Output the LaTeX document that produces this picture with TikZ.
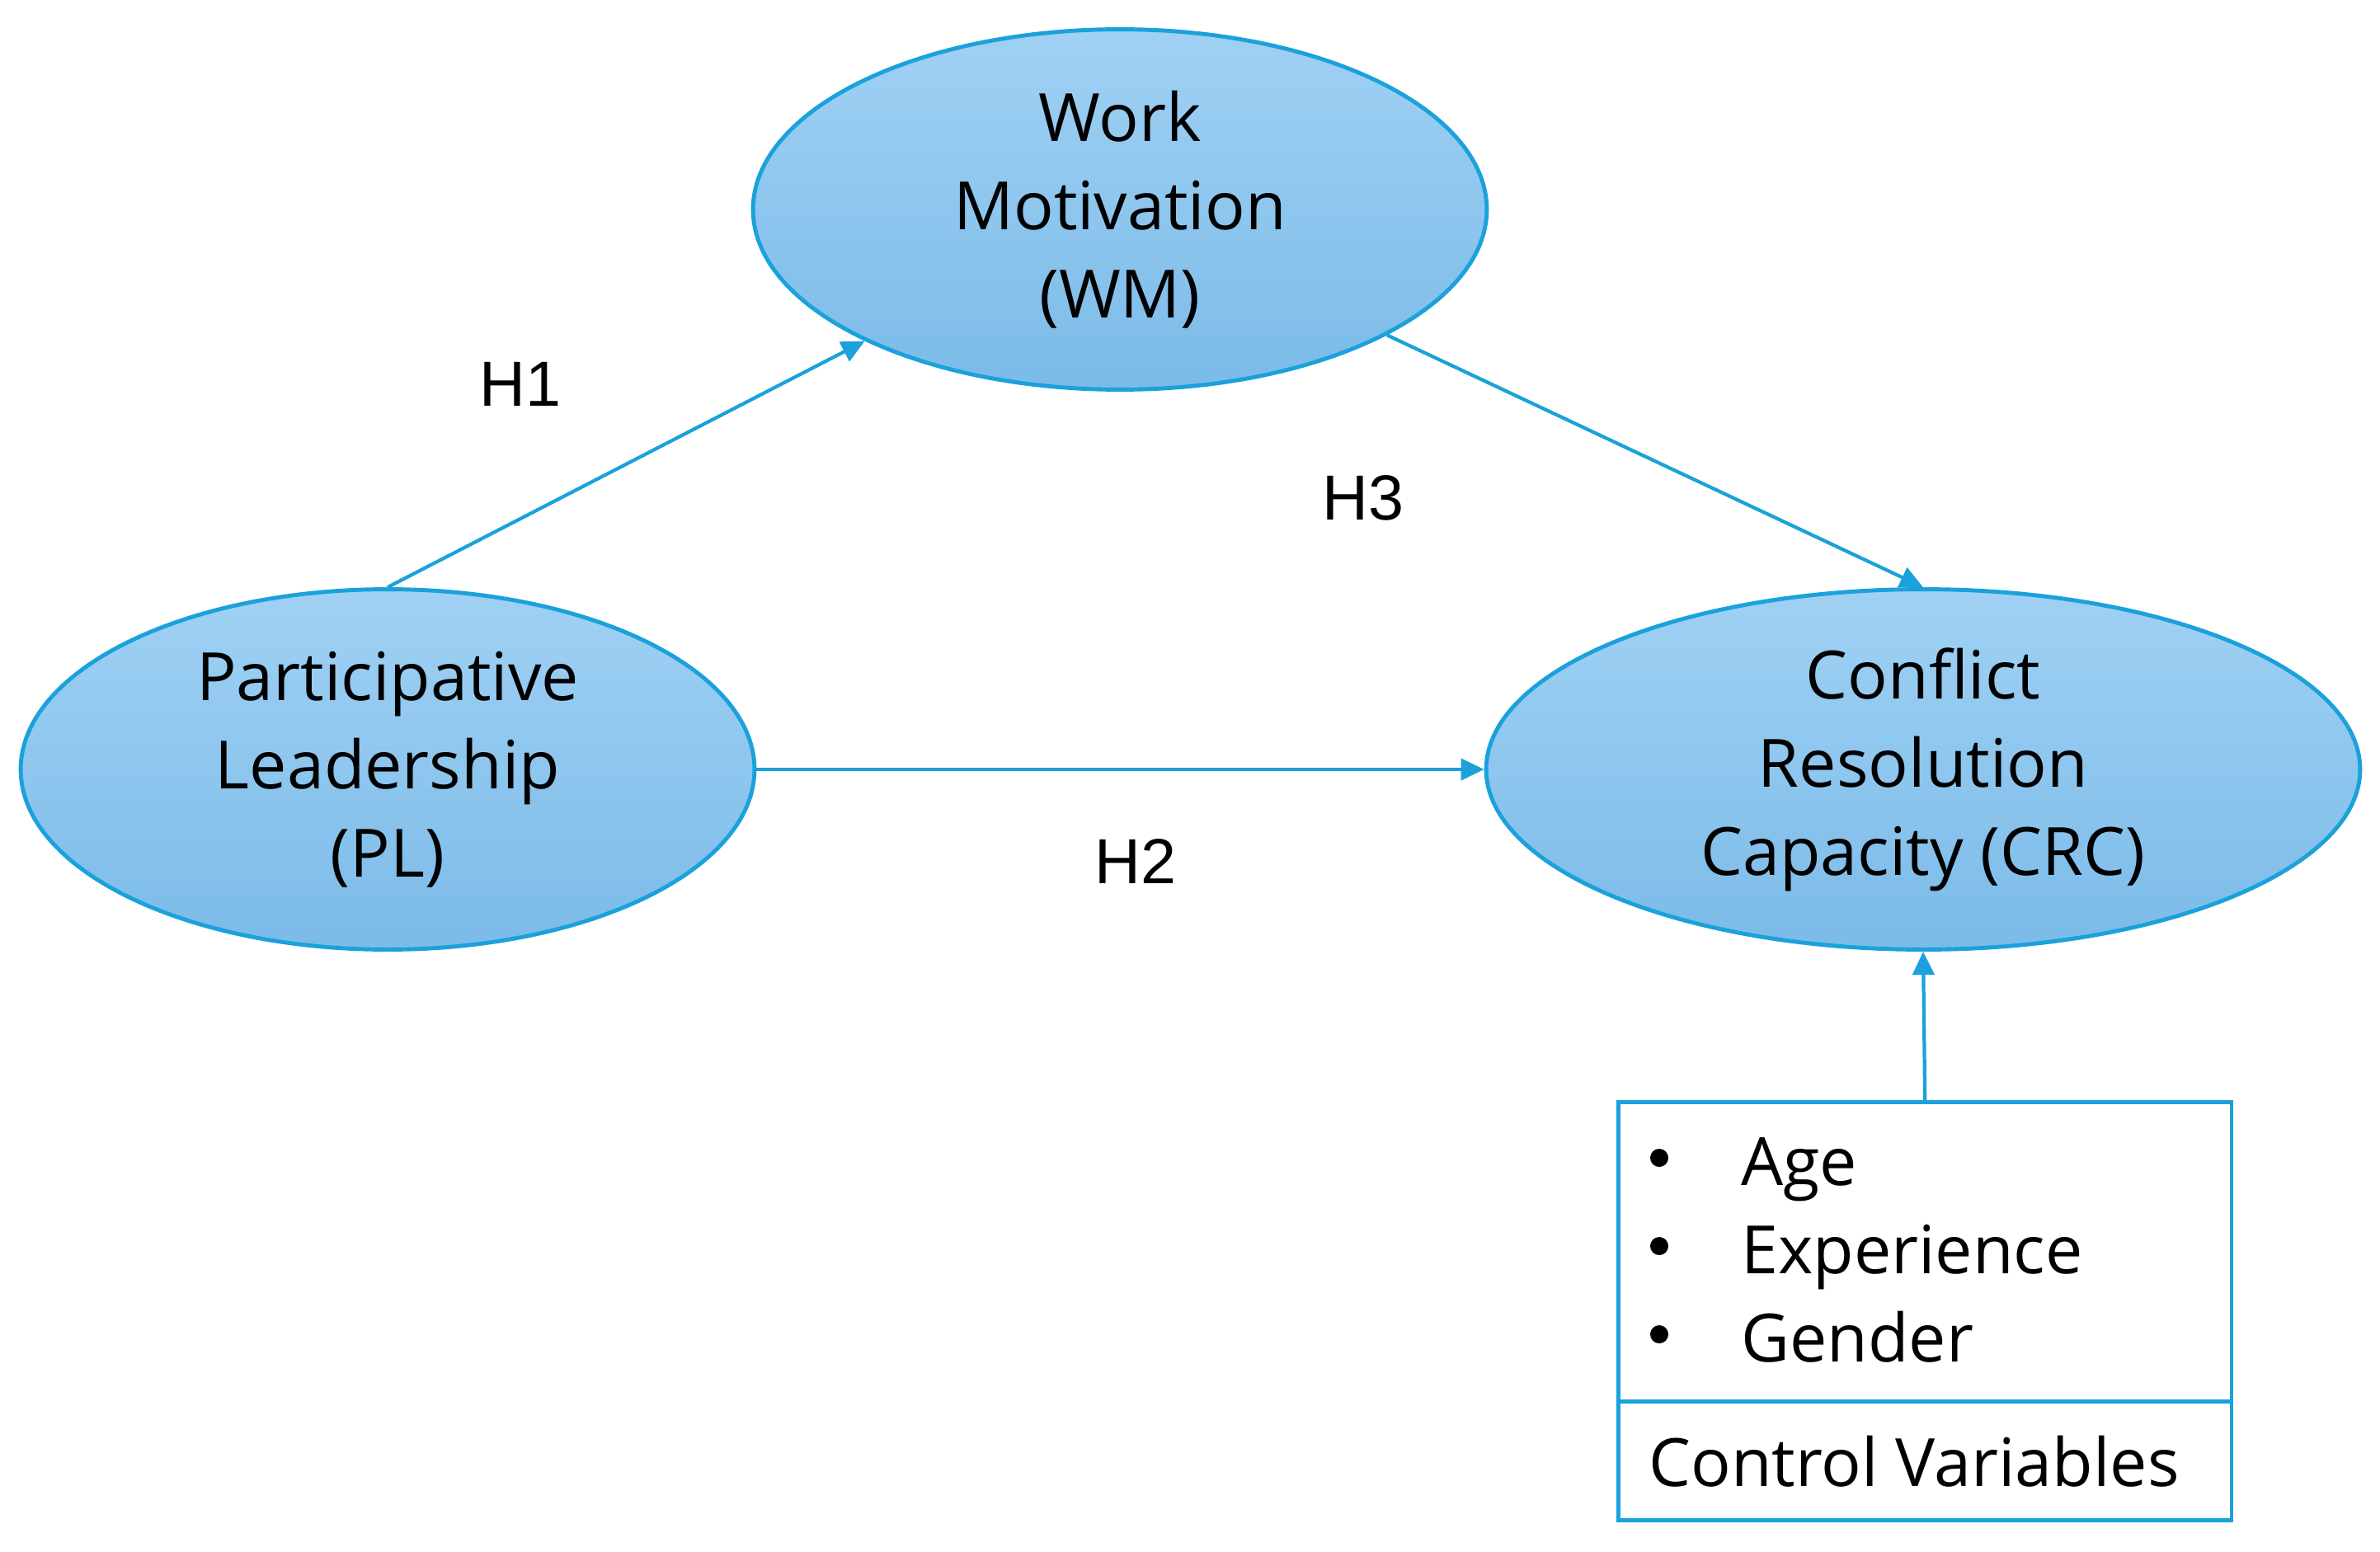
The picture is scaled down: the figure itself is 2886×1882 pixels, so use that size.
\documentclass[tikz,border=0pt]{standalone}
\usepackage{fontspec}
\setmainfont{Open Sans}
\newfontfamily\hfont{Liberation Sans}
\usetikzlibrary{shapes.geometric,arrows.meta}
\definecolor{edge}{HTML}{1BA1DB}
\definecolor{filltop}{HTML}{A0D1F4}
\definecolor{fillbot}{HTML}{7BBBE8}
\begin{document}
\begin{tikzpicture}[x=0.02cm,y=-0.02cm,
  construct/.style={ellipse, draw=edge, line width=2.8pt, top color=filltop, bottom color=fillbot,
    inner sep=0pt, minimum height=8.74cm, align=center, font=\fontsize{46}{61}\selectfont},
  link/.style={draw=edge, line width=2.4pt, -{Triangle[length=0.56cm,width=0.52cm]}},
  hyp/.style={font=\hfont\fontsize{44}{50}\selectfont, inner sep=0pt},
  item/.style={anchor=base west, inner sep=0pt, font=\fontsize{46}{61}\selectfont},
  dot/.style={circle, fill=black, inner sep=0pt, minimum size=0.44cm},
  panel/.style={draw=edge, line width=2.6pt, inner sep=0pt, anchor=north west, minimum width=14.88cm}
]
\useasboundingbox (0,0) rectangle (2886,1882);

\node[construct, minimum width=17.8cm] (WM) at (1358,254) {Work\\Motivation\\(WM)};
\node[construct, minimum width=17.8cm] (PL) at (470,933) {Participative\\Leadership\\(PL)};
\node[construct, minimum width=21.2cm] (CRC) at (2332,933) {Conflict\\Resolution\\Capacity (CRC)};

\node[panel, minimum height=7.26cm] (items) at (1960,1334) {};
\node[panel, minimum height=2.88cm] (cvbox) at (1960,1697) {};

\node[dot] (b1) at (2012,1404) {};
\node[item] (t1) at (2111,1437) {Age};
\node[dot] (b2) at (2012,1511) {};
\node[item] (t2) at (2111,1544) {Experience};
\node[dot] (b3) at (2012,1618) {};
\node[item] (t3) at (2111,1651) {Gender};
\node[item] (cv) at (1999,1802) {Control Variables};

\draw[link] (PL.north) -- (WM);
\draw[link] (WM) -- (CRC.north);
\draw[link] (PL.east) -- (CRC.west);
\draw[link] (items.north) -- (CRC.south);

\node[hyp] (h1) at (631,466) {H1};
\node[hyp] (h3) at (1653,604) {H3};
\node[hyp] (h2) at (1377,1044) {H2};
\end{tikzpicture}
\end{document}
